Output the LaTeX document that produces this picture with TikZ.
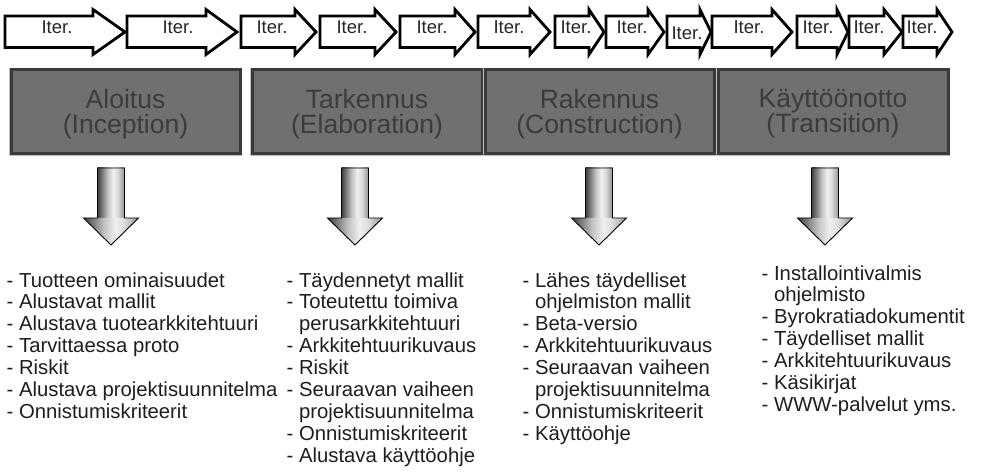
\documentclass[tikz,border=0pt]{standalone}
\usepackage{fontspec}
\setmainfont{Liberation Sans}
\definecolor{phasefill}{HTML}{707070}
\definecolor{phaseborder}{HTML}{3A3A3A}
\definecolor{phasetext}{HTML}{3C3C3C}
\definecolor{listtext}{HTML}{1E1E1E}
\definecolor{cylA}{HTML}{3E3E3E}
\definecolor{cylB}{HTML}{7E7E7E}
\definecolor{cylC}{HTML}{C4C4C4}
\definecolor{cylE}{HTML}{F0F0F0}
\definecolor{cylF}{HTML}{DCDCDC}
\definecolor{cylD}{HTML}{959595}
\pgfdeclarehorizontalshading{cyl}{100bp}{color(0bp)=(cylA); color(25bp)=(cylA); color(34bp)=(cylB); color(44bp)=(cylC); color(54bp)=(cylE); color(62bp)=(cylF); color(75bp)=(cylD); color(100bp)=(cylD)}
\tikzset{
  iterarrow/.style={draw=black, line width=2.8pt, fill=white, line join=miter},
  itertext/.style={font=\fontsize{18.5}{20}\selectfont, text=black!85, inner sep=0pt},
  phasebox/.style={draw=phaseborder, line width=3pt, fill=phasefill},
  phaseouter/.style={draw=black!25, line width=0.8pt},
  phasetitle/.style={font=\fontsize{26.5}{25}\selectfont, text=phasetext, align=center, inner sep=0pt},
  downshade/.style={shading=cyl},
  downline/.style={draw=black, line width=0.9pt, line join=miter},
  listline/.style={font=\fontsize{20.3}{22}\selectfont, text=listtext, anchor=base west, inner sep=0pt},
}
\newcommand\iterarr[6]{%
  \draw[iterarrow] (#2,16) -- (#3,16) -- (#3,9.5) -- (#4,32) -- (#3,54.5) -- (#3,47.5) -- (#2,47.5) -- cycle;
  \node[itertext] (#1) at (#5,#6) {Iter.};}
\newcommand\phasebx[4]{%
  \draw[phaseouter] (#2-1.8,68.2) rectangle (#3+1.8,155.8);
  \draw[phasebox] (#2,70) rectangle (#3,154);
  \node[phasetitle] (#1) at ({(#2+#3)/2},114) {#4};}
\newcommand\downarr[2]{%
  \path[downshade] (#2-13.5,168) rectangle (#2+13.5,218);
  \path[downshade] (#2-27.5,218) -- (#2+27.5,218) -- (#2,245) -- cycle;
  \draw[downline] (#2-13.5,168) -- (#2+13.5,168) -- (#2+13.5,218) -- (#2+27.5,218) -- (#2,245) -- (#2-27.5,218) -- (#2-13.5,218) -- cycle;
  \coordinate (#1) at (#2,245);}
\begin{document}
\begin{tikzpicture}[x=1pt,y=-1pt]
\useasboundingbox[fill=white] (0,0) rectangle (986,476);
% iteration arrows
\iterarr{it1}{5}{93}{125}{57}{27}
\iterarr{it2}{127}{206}{237}{178}{27}
\iterarr{it3}{241}{295}{316}{272}{27}
\iterarr{it4}{320}{375}{396}{352}{27}
\iterarr{it5}{400}{455}{475}{432}{27}
\iterarr{it6}{478}{530}{550}{509}{27}
\iterarr{it7}{555}{589}{604}{576}{27}
\iterarr{it8}{606}{648}{664}{632}{27}
\iterarr{it9}{667}{700}{711}{687}{33}
\iterarr{it10}{712}{772}{792}{749}{27}
\iterarr{it11}{797}{837}{848}{818}{27}
\iterarr{it12}{849}{884}{902}{869}{27}
\iterarr{it13}{903}{937}{952}{922}{27}
% phases
\phasebx{ph1}{11}{240}{Aloitus\\(Inception)}
\phasebx{ph2}{252}{482}{Tarkennus\\(Elaboration)}
\phasebx{ph3}{485}{714}{Rakennus\\(Construction)}
\phasebx{ph4}{718}{948}{Käyttöönotto\\(Transition)}
% down arrows
\downarr{d1}{111}
\downarr{d2}{355}
\downarr{d3}{599}
\downarr{d4}{825}
% lists
\foreach \t [count=\i from 0] in {- Tuotteen ominaisuudet, - Alustavat mallit, - Alustava tuotearkkitehtuuri, - Tarvittaessa proto, - Riskit, - Alustava projektisuunnitelma, - Onnistumiskriteerit}
  \node[listline] (la\i) at (6.5,{287+21.9*\i}) {\t};
\foreach \t [count=\i from 0] in {- Täydennetyt mallit, - Toteutettu toimiva, \phantom{- }perusarkkitehtuuri, - Arkkitehtuurikuvaus, - Riskit, - Seuraavan vaiheen, \phantom{- }projektisuunnitelma, - Onnistumiskriteerit, - Alustava käyttöohje}
  \node[listline] (lb\i) at (286.5,{287+21.9*\i}) {\t};
\foreach \t [count=\i from 0] in {- Lähes täydelliset, \phantom{- }ohjelmiston mallit, - Beta-versio, - Arkkitehtuurikuvaus, - Seuraavan vaiheen, \phantom{- }projektisuunnitelma, - Onnistumiskriteerit, - Käyttöohje}
  \node[listline] (lc\i) at (522.5,{287+21.9*\i}) {\t};
\foreach \t [count=\i from 0] in {- Installointivalmis, \phantom{- }ohjelmisto, - Byrokratiadokumentit, - Täydelliset mallit, - Arkkitehtuurikuvaus, - Käsikirjat, - WWW-palvelut yms.}
  \node[listline] (ld\i) at (761.5,{280+21.9*\i}) {\t};
\end{tikzpicture}
\end{document}
